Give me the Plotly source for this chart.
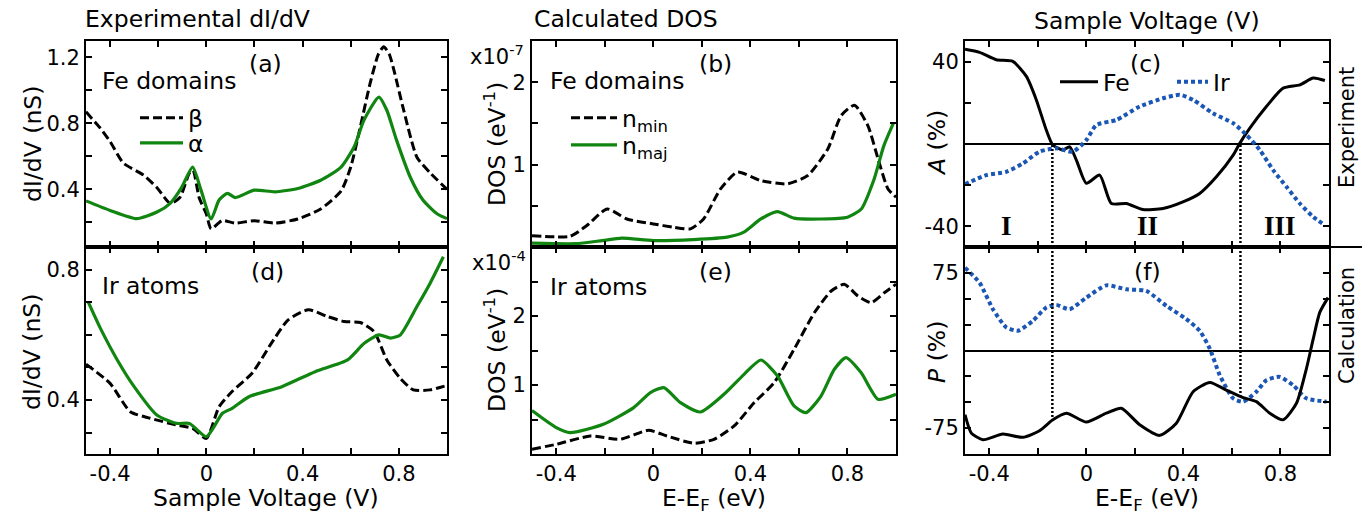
import plotly.graph_objects as go
import numpy as np

# ---------------- data ----------------
# (a) Fe domains, experimental dI/dV (nS)
a_beta_x = [-0.5, -0.44, -0.4, -0.345, -0.26, -0.205, -0.15, -0.11, -0.07, -0.055, -0.03, 0.0, 0.02, 0.065, 0.12, 0.2, 0.285, 0.38, 0.475, 0.56, 0.6, 0.64, 0.68, 0.715, 0.737, 0.76, 0.78, 0.82, 0.875, 0.93, 1.0]
a_beta_y = [0.87, 0.77, 0.69, 0.56, 0.485, 0.41, 0.315, 0.35, 0.5, 0.515, 0.35, 0.25, 0.16, 0.21, 0.195, 0.21, 0.195, 0.22, 0.28, 0.39, 0.535, 0.78, 1.04, 1.22, 1.265, 1.22, 1.12, 0.88, 0.595, 0.5, 0.4]
a_alpha_x = [-0.5, -0.4, -0.29, -0.205, -0.15, -0.103, -0.057, -0.022, 0.02, 0.053, 0.088, 0.12, 0.2, 0.285, 0.38, 0.475, 0.56, 0.615, 0.655, 0.717, 0.75, 0.79, 0.847, 0.9, 0.96, 1.0]
a_alpha_y = [0.33, 0.272, 0.222, 0.262, 0.315, 0.41, 0.535, 0.395, 0.22, 0.335, 0.375, 0.35, 0.395, 0.385, 0.405, 0.455, 0.535, 0.66, 0.82, 0.96, 0.88, 0.70, 0.475, 0.335, 0.25, 0.222]

# (d) Ir atoms, experimental dI/dV (nS)
d_beta_x = [-0.5, -0.4, -0.316, -0.234, -0.124, -0.057, 0.0, 0.053, 0.107, 0.19, 0.27, 0.34, 0.424, 0.505, 0.573, 0.64, 0.697, 0.75, 0.805, 0.86, 0.93, 1.0]
d_beta_y = [0.51, 0.451, 0.364, 0.344, 0.323, 0.313, 0.282, 0.379, 0.426, 0.482, 0.574, 0.646, 0.677, 0.656, 0.641, 0.638, 0.61, 0.523, 0.467, 0.431, 0.431, 0.445]
d_alpha_x = [-0.49, -0.44, -0.37, -0.3, -0.206, -0.124, -0.07, 0.0, 0.067, 0.107, 0.177, 0.314, 0.452, 0.587, 0.656, 0.717, 0.765, 0.806, 0.875, 0.93, 0.985]
d_alpha_y = [0.70, 0.62, 0.523, 0.441, 0.354, 0.328, 0.328, 0.287, 0.359, 0.374, 0.41, 0.441, 0.487, 0.523, 0.574, 0.6, 0.59, 0.6, 0.687, 0.759, 0.84]

# (b) Fe domains, calculated DOS (x1e-7 / eV)
b_min_x = [-0.5, -0.343, -0.274, -0.19, -0.109, 0.0, 0.083, 0.153, 0.207, 0.277, 0.346, 0.443, 0.553, 0.636, 0.719, 0.774, 0.829, 0.884, 0.926, 0.967, 1.0]
b_min_y = [0.138, 0.131, 0.26, 0.462, 0.34, 0.28, 0.24, 0.22, 0.34, 0.705, 0.908, 0.806, 0.766, 0.867, 1.19, 1.595, 1.72, 1.473, 1.07, 0.705, 0.605]
b_maj_x = [-0.5, -0.32, -0.21, -0.13, 0.0, 0.166, 0.304, 0.373, 0.443, 0.511, 0.58, 0.69, 0.8, 0.857, 0.91, 0.95, 0.99]
b_maj_y = [0.046, 0.04, 0.078, 0.107, 0.078, 0.09, 0.119, 0.18, 0.34, 0.43, 0.35, 0.34, 0.362, 0.462, 0.826, 1.23, 1.506]

# (e) Ir atoms, calculated DOS (x1e-4 / eV)
e_min_x = [-0.5, -0.4, -0.26, -0.137, -0.02, 0.057, 0.167, 0.25, 0.333, 0.416, 0.498, 0.58, 0.664, 0.733, 0.787, 0.843, 0.898, 0.953, 1.0]
e_min_y = [0.07, 0.14, 0.26, 0.213, 0.343, 0.26, 0.155, 0.213, 0.406, 0.745, 1.035, 1.517, 2.05, 2.362, 2.46, 2.29, 2.194, 2.34, 2.46]
e_maj_x = [-0.5, -0.4, -0.343, -0.206, -0.081, -0.012, 0.043, 0.112, 0.194, 0.291, 0.374, 0.443, 0.512, 0.58, 0.629, 0.691, 0.746, 0.794, 0.856, 0.926, 1.0]
e_maj_y = [0.63, 0.383, 0.31, 0.43, 0.672, 0.89, 0.962, 0.745, 0.609, 0.865, 1.155, 1.362, 1.13, 0.696, 0.6, 0.84, 1.228, 1.397, 1.18, 0.793, 0.865]

# (c) experimental asymmetry A (%)
c_fe_x = [-0.5, -0.44, -0.371, -0.303, -0.247, -0.206, -0.165, -0.138, -0.096, -0.069, -0.041, 0.0, 0.055, 0.103, 0.165, 0.233, 0.316, 0.398, 0.467, 0.536, 0.605, 0.632, 0.673, 0.742, 0.811, 0.88, 0.935, 0.983]
c_fe_y = [46, 44.5, 40.9, 40.1, 32.8, 21.4, 6.8, -0.5, -2.9, -1.3, -7.8, -19.1, -15.1, -28.9, -28.9, -31.8, -31.3, -28.1, -24, -15.9, -5.4, 0.3, 7.6, 18.2, 27.1, 28.7, 32, 30.8]
c_ir_x = [-0.5, -0.412, -0.33, -0.261, -0.193, -0.124, -0.055, 0.0, 0.041, 0.124, 0.22, 0.316, 0.385, 0.44, 0.522, 0.605, 0.66, 0.715, 0.77, 0.825, 0.88, 0.935, 0.983]
c_ir_y = [-19.5, -15.1, -13.5, -9.4, -3.7, -2.1, -3.7, 1.9, 9.2, 11.7, 18.2, 22.2, 23.9, 21.4, 14.9, 10.1, 4.4, -2.9, -12.7, -20.8, -28.9, -35.4, -39.4]

# (f) calculated polarization P (%)
f_ir_x = [-0.5, -0.44, -0.385, -0.33, -0.282, -0.22, -0.165, -0.124, -0.069, 0.0, 0.082, 0.165, 0.247, 0.33, 0.412, 0.467, 0.509, 0.55, 0.605, 0.646, 0.701, 0.742, 0.797, 0.852, 0.907, 0.99]
f_ir_y = [80, 65.5, 39.9, 22.4, 19.1, 28.7, 41.6, 44.1, 39.9, 51.1, 62.9, 59.1, 57.5, 43.1, 30.4, 19.1, 1.6, -23.9, -46.2, -49.4, -39.8, -28.7, -25.5, -33.5, -46.2, -49.4]
f_fe_x = [-0.5, -0.474, -0.426, -0.344, -0.261, -0.193, -0.138, -0.082, 0.0, 0.082, 0.144, 0.22, 0.302, 0.371, 0.44, 0.509, 0.577, 0.646, 0.701, 0.756, 0.811, 0.866, 0.907, 0.935, 0.962, 0.996]
f_fe_y = [-62, -79.8, -86.2, -80.7, -83.9, -77.6, -67, -60.6, -69.2, -60.6, -55.8, -71.8, -82, -70.2, -39.8, -30.9, -38.3, -45.6, -49.4, -60.6, -67, -51, -17.5, 11.2, 36.8, 51.1]

# region boundaries (sign change of Fe asymmetry)
boundaries = [-0.14, 0.635]
region_labels = ["I", "II", "III"]
region_x = [-0.33, 0.25, 0.8]

# tick definitions
x_major = [-0.4, 0.0, 0.4, 0.8]
x_major_text = ["-0.4", "0", "0.4", "0.8"]
x_minor = [-0.4, -0.2, 0.0, 0.2, 0.4, 0.6, 0.8, 1.0]
ya_major, ya_text, ya_minor = [0.4, 0.8, 1.2], ["0.4", "0.8", "1.2"], [0.2, 0.4, 0.6, 0.8, 1.0, 1.2]
yd_major, yd_text, yd_minor = [0.4, 0.8], ["0.4", "0.8"], [0.3, 0.4, 0.5, 0.6, 0.7, 0.8]
yb_major, yb_text, yb_minor = [1, 2], ["1", "2"], [0.5, 1, 1.5, 2]
ye_major, ye_text, ye_minor = [1, 2], ["1", "2"], [0.5, 1, 1.5, 2, 2.5]
yc_major, yc_text, yc_minor = [-40, 40], ["-40", "40"], [-40, -20, 20, 40]
yf_major, yf_text, yf_minor = [-75, 75], ["-75", "75"], [-75, -50, -25, 25, 50, 75]

# ---------------- styling ----------------
W, H = 1370, 515
FONT = "DejaVu Sans"
GREEN = "#108510"
BLUE = "#1a56b5"
TICKSIZE = 21
TXTSIZE = 23.5


def px(x):
    return x / W


def py(y):
    return 1 - y / H


fig = go.Figure()

dash_blk = dict(color="black", width=3, dash="9px,4px", shape="spline", smoothing=0.6)
sol_grn = dict(color=GREEN, width=3.2, shape="spline", smoothing=0.6)
sol_blk = dict(color="black", width=3, shape="spline", smoothing=0.6)
dot_blu = dict(color=BLUE, width=4, dash="4px,3px", shape="spline", smoothing=0.6)

# (a)
fig.add_trace(go.Scatter(x=a_beta_x, y=a_beta_y, mode="lines", line=dash_blk, name="β", xaxis="x", yaxis="y", legend="legend"))
fig.add_trace(go.Scatter(x=a_alpha_x, y=a_alpha_y, mode="lines", line=sol_grn, name="α", xaxis="x", yaxis="y", legend="legend2"))
# (b)
fig.add_trace(go.Scatter(x=b_min_x, y=b_min_y, mode="lines", line=dash_blk, name="n<sub>min</sub>", xaxis="x2", yaxis="y2", legend="legend3"))
fig.add_trace(go.Scatter(x=b_maj_x, y=b_maj_y, mode="lines", line=sol_grn, name="n<sub>maj</sub>", xaxis="x2", yaxis="y2", legend="legend4"))
# (c)
fig.add_trace(go.Scatter(x=c_fe_x, y=c_fe_y, mode="lines", line=sol_blk, name="Fe", xaxis="x3", yaxis="y3", legend="legend5"))
fig.add_trace(go.Scatter(x=c_ir_x, y=c_ir_y, mode="lines", line=dot_blu, name="Ir", xaxis="x3", yaxis="y3", legend="legend6"))
# (d)
fig.add_trace(go.Scatter(x=d_beta_x, y=d_beta_y, mode="lines", line=dash_blk, showlegend=False, xaxis="x4", yaxis="y4"))
fig.add_trace(go.Scatter(x=d_alpha_x, y=d_alpha_y, mode="lines", line=sol_grn, showlegend=False, xaxis="x4", yaxis="y4"))
# (e)
fig.add_trace(go.Scatter(x=e_min_x, y=e_min_y, mode="lines", line=dash_blk, showlegend=False, xaxis="x5", yaxis="y5"))
fig.add_trace(go.Scatter(x=e_maj_x, y=e_maj_y, mode="lines", line=sol_grn, showlegend=False, xaxis="x5", yaxis="y5"))
# (f)
fig.add_trace(go.Scatter(x=f_ir_x, y=f_ir_y, mode="lines", line=dot_blu, showlegend=False, xaxis="x6", yaxis="y6"))
fig.add_trace(go.Scatter(x=f_fe_x, y=f_fe_y, mode="lines", line=sol_blk, showlegend=False, xaxis="x6", yaxis="y6"))

# boundary dotted lines
vline = dict(color="black", width=2.5, dash="2px,2px")
for b in boundaries:
    fig.add_trace(go.Scatter(x=[b, b], y=[-50, 0], mode="lines", line=vline, showlegend=False, xaxis="x3", yaxis="y3"))
    fe_at_b = float(np.interp(b, f_fe_x, f_fe_y))
    fig.add_trace(go.Scatter(x=[b, b], y=[100, fe_at_b], mode="lines", line=vline, showlegend=False, xaxis="x6", yaxis="y6"))

# ---------------- axes ----------------
xdom = {1: [86, 447], 2: [532, 896], 3: [965, 1329]}
ydom = {"top": [41, 247], "bot": [247, 454]}


def base_axis(minor_vals):
    return dict(showline=True, linecolor="black", linewidth=2, mirror="ticks",
                ticks="inside", ticklen=6, tickwidth=2, tickcolor="black",
                showgrid=False, zeroline=False,
                minor=dict(tickmode="array", tickvals=minor_vals, ticks="inside", ticklen=6,
                           tickwidth=2, tickcolor="black", showgrid=False),
                tickfont=dict(size=TICKSIZE, color="black", family=FONT))


layout_axes = {}
panels = [
    (1, "top", [0.05, 1.3], ya_major, ya_text, ya_minor),
    (2, "top", [0, 2.5], yb_major, yb_text, yb_minor),
    (3, "top", [-50, 50], yc_major, yc_text, yc_minor),
    (1, "bot", [0.234, 0.87], yd_major, yd_text, yd_minor),
    (2, "bot", [0, 3], ye_major, ye_text, ye_minor),
    (3, "bot", [-100, 100], yf_major, yf_text, yf_minor),
]
for i, (col, row, yr, ytv, ytt, ymn) in enumerate(panels, start=1):
    sfx = "" if i == 1 else str(i)
    xa = base_axis(x_minor)
    xa.update(domain=[px(xdom[col][0]), px(xdom[col][1])], range=[-0.5, 1.0],
              tickmode="array", tickvals=x_major, ticktext=x_major_text,
              anchor="y" + sfx, showticklabels=(row == "bot"))
    ya = base_axis(ymn)
    ya.update(domain=[py(ydom[row][1]), py(ydom[row][0])], range=yr,
              tickmode="array", tickvals=ytv, ticktext=ytt, anchor="x" + sfx)
    if col == 3:
        ya.update(zeroline=True, zerolinecolor="black", zerolinewidth=2)
    layout_axes["xaxis" + sfx] = xa
    layout_axes["yaxis" + sfx] = ya

fig.update_layout(**layout_axes)

# ---------------- legends (one per entry, placed individually) ----------------
def leg(x, y, itemw):
    return dict(x=px(x), y=py(y), xanchor="left", yanchor="middle", bgcolor="rgba(0,0,0,0)",
                font=dict(size=TXTSIZE, color="black", family=FONT), tracegroupgap=0, itemwidth=itemw)


fig.update_layout(
    legend=leg(135, 118, 43),
    legend2=leg(135, 143, 43),
    legend3=leg(566, 118, 46),
    legend4=leg(566, 145, 46),
    legend5=leg(1055, 82, 38),
    legend6=leg(1172, 82, 31),
)

# ---------------- annotations ----------------
ann = []


def text(x, y, s, size=TXTSIZE, xanchor="center", angle=0, family=FONT):
    ann.append(dict(x=px(x), y=py(y), xref="paper", yref="paper", text=s,
                    showarrow=False, xanchor=xanchor, yanchor="middle", textangle=angle,
                    font=dict(size=size, color="black", family=family)))


# headers
text(83, 19, "Experimental dI/dV", xanchor="left")
text(532, 19, "Calculated DOS", xanchor="left")
text(1147, 21, "Sample Voltage (V)")
# panel labels
text(265, 64, "(a)")
text(715, 64, "(b)")
text(1145, 64, "(c)")
text(267, 272, "(d)")
text(715, 272, "(e)")
text(1147, 272, "(f)")
text(100, 81, "Fe domains", xanchor="left")
text(548, 81, "Fe domains", xanchor="left")
text(100, 286, "Ir atoms", xanchor="left")
text(548, 287, "Ir atoms", xanchor="left")
# scale factors
text(526, 55, "x10<sup>-7</sup>", size=TICKSIZE, xanchor="right")
text(528, 261, "x10<sup>-4</sup>", size=TICKSIZE, xanchor="right")
# axis titles
text(33, 144, "dI/dV (nS)", angle=-90)
text(32, 352, "dI/dV (nS)", angle=-90)
text(495, 144, "DOS (eV<sup>-1</sup>)", angle=-90)
text(495, 350, "DOS (eV<sup>-1</sup>)", angle=-90)
text(937, 143, "<i>A</i> (%)", angle=-90)
text(937, 352, "<i>P</i> (%)", angle=-90)
text(266, 498, "Sample Voltage (V)")
text(714, 499, "E-E<sub>F</sub> (eV)")
text(1147, 499, "E-E<sub>F</sub> (eV)")
text(1347, 128, "Experiment", size=21, angle=-90)
text(1347, 326, "Calculation", size=21, angle=-90)

fig.update_layout(annotations=ann)

# region labels in panel (c)
for lab, rx in zip(region_labels, region_x):
    fig.add_annotation(x=rx, y=-40, xref="x3", yref="y3", text="<b>%s</b>" % lab, showarrow=False,
                       font=dict(size=27, color="black", family="Liberation Serif"), yanchor="middle")

# continuation of the separator line on the right
fig.add_shape(type="line", xref="paper", yref="paper", x0=px(1329), x1=px(1362),
              y0=py(247), y1=py(247), line=dict(color="black", width=2))

fig.update_layout(width=W, height=H, margin=dict(l=0, r=0, t=0, b=0),
                  paper_bgcolor="white", plot_bgcolor="white",
                  font=dict(family=FONT, color="black"))

fig.write_html("out.html", config={"displayModeBar": False},
               post_script="document.body.style.margin='0px';document.body.style.padding='0px';")
